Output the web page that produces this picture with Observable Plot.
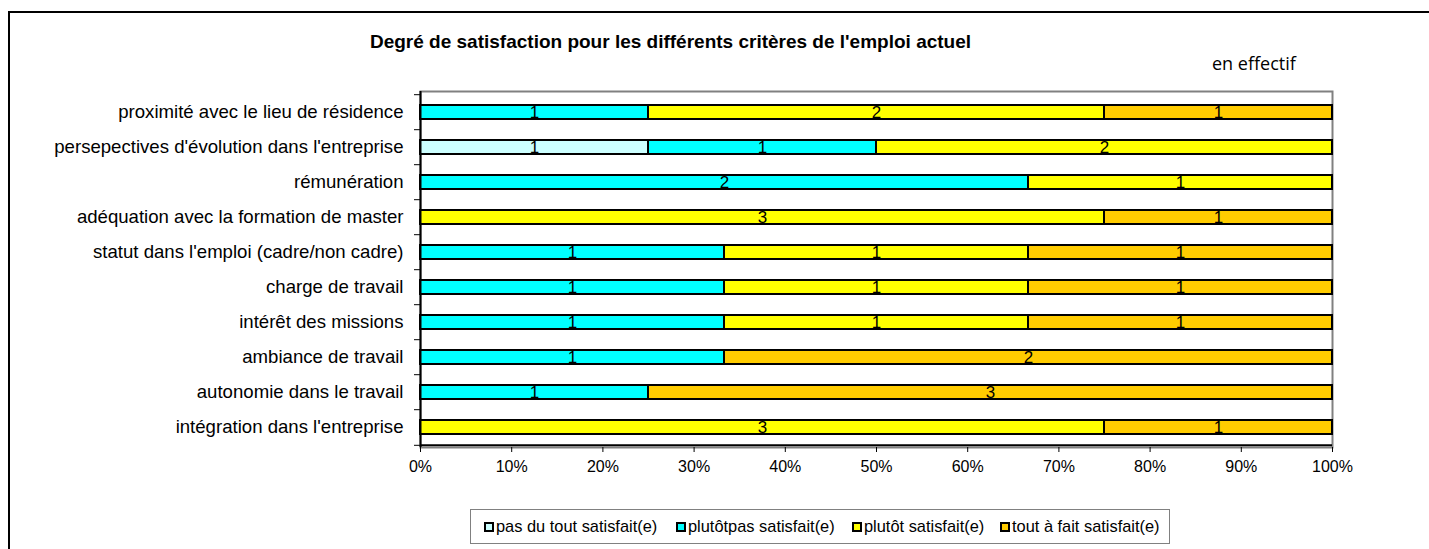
<!DOCTYPE html>
<html>
<head>
<meta charset="utf-8">
<script src="https://cdn.jsdelivr.net/npm/d3@7"></script>
<script src="https://cdn.jsdelivr.net/npm/@observablehq/plot@0.6"></script>
<style>
  body { margin: 0; background: #fff; }
  #wrap { position: relative; width: 1429px; height: 549px; overflow: hidden; background: #fff;
          font-family: "Liberation Sans", Arial, sans-serif; color: #000; }
  #chart { position: absolute; left: 0; top: 0; }
  #frame { position: absolute; left: 8px; top: 11px; width: 1600px; height: 700px;
           border-left: 2px solid #000; border-top: 2px solid #000; pointer-events: none; }
  #title { position: absolute; left: 0; width: 1341px; top: 31px; line-height: 22px;
           text-align: center; font-weight: bold; font-size: 19px; }
  #unit { position: absolute; left: 1212px; top: 51px; line-height: 24px;
          font-family: "Open Sans", sans-serif; font-size: 18px; }
  #legend { position: absolute; left: 470px; top: 509px; width: 698px; height: 33px;
            border: 1.5px solid #808080; background: #fff; }
  .item { position: absolute; top: 0; height: 33px; line-height: 33px; font-size: 16.4px; white-space: nowrap; }
  .sw { position: absolute; left: 0; top: 12px; width: 6px; height: 6px; border: 2px solid #000; }
  .lab { position: absolute; left: 12px; top: 0; }
</style>
</head>
<body>
<div id="wrap">
  <div id="chart"></div>
  <div id="frame"></div>
  <div id="title"></div>
  <div id="unit"></div>
  <div id="legend"></div>
</div>
<script>
// ---- data ----
const title = "Degré de satisfaction pour les différents critères de l'emploi actuel";
const unitLabel = "en effectif";
const categories = [
  "proximité avec le lieu de résidence",
  "persepectives d'évolution dans l'entreprise",
  "rémunération",
  "adéquation avec la formation de master",
  "statut dans l'emploi (cadre/non cadre)",
  "charge de travail",
  "intérêt des missions",
  "ambiance de travail",
  "autonomie dans le travail",
  "intégration dans l'entreprise"
];
const seriesNames = [
  "pas du tout satisfait(e)",
  "plutôtpas satisfait(e)",
  "plutôt satisfait(e)",
  "tout à fait satisfait(e)"
];
const pasDuTout  = [0, 1, 0, 0, 0, 0, 0, 0, 0, 0];
const plutotPas  = [1, 1, 2, 0, 1, 1, 1, 1, 1, 0];
const plutot     = [2, 2, 1, 3, 1, 1, 1, 0, 0, 3];
const toutAFait  = [1, 0, 0, 1, 1, 1, 1, 2, 3, 1];
const seriesColors = ["#CCFFFF", "#00FFFF", "#FFFF00", "#FFCC00"];
const xTicks = [0, 0.1, 0.2, 0.3, 0.4, 0.5, 0.6, 0.7, 0.8, 0.9, 1];

// ---- table ----
const seriesValues = [pasDuTout, plutotPas, plutot, toutAFait];
const rows = [];
categories.forEach((c, i) => {
  seriesNames.forEach((s, j) => {
    const v = seriesValues[j][i];
    if (v > 0) rows.push({cat: c, series: s, value: v});
  });
});

const lastCat = categories[categories.length - 1];
const marginTop = 91, marginBottom = 102, H = 549;
const step = (H - marginTop - marginBottom) / categories.length;

const chart = Plot.plot({
  width: 1429,
  height: H,
  marginLeft: 420,
  marginRight: 97,
  marginTop,
  marginBottom,
  style: {fontFamily: "'Liberation Sans', Arial, sans-serif", fontSize: "16px", color: "#000", background: "transparent"},
  x: {domain: [0, 1], label: null},
  y: {domain: categories, paddingInner: 0.6, paddingOuter: 0.3, label: null},
  color: {domain: seriesNames, range: seriesColors},
  marks: [
    Plot.frame({stroke: "#808080", strokeWidth: 2}),
    Plot.barX(rows, Plot.stackX({
      offset: "normalize", order: seriesNames,
      x: "value", y: "cat", z: "series", fill: "series",
      stroke: "#000", strokeWidth: 2
    })),
    Plot.text(rows, Plot.stackX({
      offset: "normalize", order: seriesNames,
      x: "value", y: "cat", z: "series", text: d => String(d.value),
      fill: "#000", fontSize: 17
    })),
    Plot.axisY({tickSize: 0, tickPadding: 17, fontSize: 18.6, label: null}),
    Plot.axisY({tickSize: 6, tickFormat: () => "", dy: -step / 2, label: null}),
    Plot.axisY({ticks: [lastCat], tickSize: 6, tickFormat: () => "", dy: step / 2, label: null}),
    Plot.axisX({ticks: xTicks, tickFormat: d3.format(".0%"), tickSize: 5, tickPadding: 8, fontSize: 16, label: null}),
    Plot.ruleX([0], {stroke: "#000", strokeWidth: 2}),
    Plot.ruleY([lastCat], {dy: step / 2, stroke: "#000", strokeWidth: 2})
  ]
});
document.getElementById("chart").appendChild(chart);

document.getElementById("title").textContent = title;
document.getElementById("unit").textContent = unitLabel;

const legendOffsets = [13, 205, 381, 529];
const legend = document.getElementById("legend");
seriesNames.forEach((s, j) => {
  const item = document.createElement("div");
  item.className = "item";
  item.style.left = legendOffsets[j] + "px";
  const sw = document.createElement("span");
  sw.className = "sw";
  sw.style.background = seriesColors[j];
  const lab = document.createElement("span");
  lab.className = "lab";
  lab.textContent = s;
  item.appendChild(sw);
  item.appendChild(lab);
  legend.appendChild(item);
});
</script>
</body>
</html>
